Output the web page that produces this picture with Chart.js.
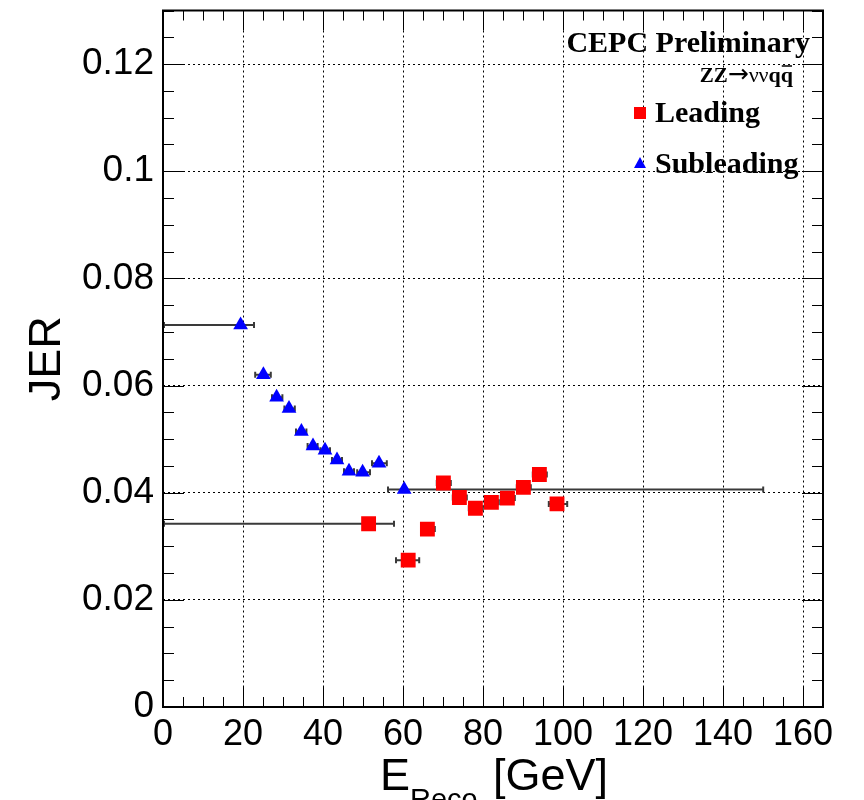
<!DOCTYPE html>
<html>
<head>
<meta charset="utf-8">
<script src="https://cdn.jsdelivr.net/npm/chart.js@4.4.1/dist/chart.umd.min.js"></script>
<style>
  body { margin: 0; background: #fff; }
  #c { display: block; }
</style>
</head>
<body>
<canvas id="c" width="864" height="800"></canvas>
<script>
// data -------------------------------------------------------------
var subX     = [19.4, 25.1, 28.4, 31.5, 34.6, 37.5, 40.5, 43.5, 46.5, 49.9, 54.0, 60.3];
var subY     = [0.0713, 0.0620, 0.0578, 0.0557, 0.0514, 0.0487, 0.0479, 0.0461, 0.0440, 0.0438, 0.0455, 0.0406];
var subXLow  = [0, 22.8, 27.0, 30.1, 33.0, 35.9, 39.1, 42.0, 45.0, 48.3, 52.0, 56.0];
var subXHigh = [23.0, 27.2, 30.1, 33.2, 36.1, 38.9, 42.0, 45.0, 48.0, 52.0, 56.2, 150.3];

var leadX     = [51.4, 61.3, 66.1, 70.1, 74.1, 78.1, 82.1, 86.1, 90.1, 94.1, 98.5];
var leadY     = [0.0342, 0.0274, 0.0332, 0.0418, 0.0391, 0.0371, 0.0382, 0.0390, 0.0410, 0.0434, 0.0379];
var leadXLow  = [0, 58.0, 64.3, 68.2, 72.2, 76.2, 80.2, 84.2, 88.2, 92.2, 96.2];
var leadXHigh = [58.0, 64.3, 68.2, 72.2, 76.2, 80.2, 84.2, 88.2, 92.2, 96.2, 101.3];

var xTicks  = [0, 20, 40, 60, 80, 100, 120, 140, 160];
var xLabels = ['0', '20', '40', '60', '80', '100', '120', '140', '160'];
var yTicks  = [0, 0.02, 0.04, 0.06, 0.08, 0.1, 0.12];
var yLabels = ['0', '0.02', '0.04', '0.06', '0.08', '0.1', '0.12'];

var legendNames = ['Leading', 'Subleading'];

function points(xs, ys, lo, hi) {
  var out = [];
  for (var i = 0; i < xs.length; i++) {
    out.push({x: xs[i], y: ys[i], xl: lo[i], xh: hi[i]});
  }
  return out;
}

// ROOT-like frame, inward ticks, error bars, legend, x title
var rootStyle = {
  id: 'rootStyle',
  beforeDatasetsDraw: function (chart) {
    var ctx = chart.ctx, xs = chart.scales.x, ys = chart.scales.y, a = chart.chartArea;
    ctx.save();
    ctx.beginPath();
    ctx.rect(a.left, a.top, a.right - a.left, a.bottom - a.top);
    ctx.clip();
    ctx.strokeStyle = '#3a3a3a';
    ctx.lineWidth = 2;
    chart.data.datasets.forEach(function (ds) {
      ds.data.forEach(function (p) {
        var py = ys.getPixelForValue(p.y);
        var x1 = xs.getPixelForValue(p.xl), x2 = xs.getPixelForValue(p.xh);
        ctx.beginPath();
        ctx.moveTo(x1, py); ctx.lineTo(x2, py);
        ctx.moveTo(x1 + 1, py - 3); ctx.lineTo(x1 + 1, py + 3);
        ctx.moveTo(x2 - 1, py - 3); ctx.lineTo(x2 - 1, py + 3);
        ctx.stroke();
      });
    });
    ctx.restore();
  },
  afterDraw: function (chart) {
    var ctx = chart.ctx, xs = chart.scales.x, ys = chart.scales.y, a = chart.chartArea;
    ctx.save();
    ctx.strokeStyle = '#000';
    ctx.lineWidth = 1;
    // minor / major ticks on all four sides
    ctx.beginPath();
    for (var i = 0; i * 5 <= xs.max; i++) {
      var px = Math.round(xs.getPixelForValue(i * 5)) + 0.5;
      var len = (i % 4 === 0) ? 20 : 10;
      ctx.moveTo(px, a.bottom); ctx.lineTo(px, a.bottom - len);
      ctx.moveTo(px, a.top); ctx.lineTo(px, a.top + len);
    }
    for (var j = 0; j * 0.005 <= ys.max + 1e-9; j++) {
      var py = Math.round(ys.getPixelForValue(j * 0.005)) + 0.5;
      var ln = (j % 4 === 0) ? 21 : 11;
      ctx.moveTo(a.left, py); ctx.lineTo(a.left + ln, py);
      ctx.moveTo(a.right, py); ctx.lineTo(a.right - ln, py);
    }
    ctx.stroke();
    // frame
    ctx.lineWidth = 2;
    ctx.strokeRect(a.left, a.top, a.right - a.left, a.bottom - a.top);

    // header texts
    ctx.fillStyle = '#000';
    ctx.textAlign = 'right';
    ctx.textBaseline = 'alphabetic';
    ctx.font = 'bold 30px "Liberation Serif"';
    ctx.fillText('CEPC Preliminary', 810, 52);
    // ZZ -> nu nu q qbar, built left to right
    var parts = [
      ['ZZ', 'bold 21px "Liberation Serif"'],
      ['\u2192', '25px "DejaVu Sans"'],
      ['\u03bd\u03bd', '22px "Liberation Serif"'],
      ['qq', 'bold 22px "Liberation Serif"']
    ];
    var total = 0;
    parts.forEach(function (p) { ctx.font = p[1]; total += ctx.measureText(p[0]).width; });
    var cx = 793 - total;
    ctx.textAlign = 'left';
    parts.forEach(function (p) {
      ctx.font = p[1];
      ctx.fillText(p[0], cx, 82);
      cx += ctx.measureText(p[0]).width;
    });
    ctx.font = 'bold 22px "Liberation Serif"';
    var qw = ctx.measureText('q').width;
    ctx.lineWidth = 1.5;
    ctx.beginPath();
    ctx.moveTo(793 - qw + 1, 66); ctx.lineTo(793 - 1, 66);
    ctx.stroke();

    // legend
    ctx.fillStyle = '#ff0000';
    ctx.fillRect(634, 107, 12, 12);
    ctx.fillStyle = '#0000ff';
    ctx.beginPath();
    ctx.moveTo(640, 157); ctx.lineTo(646, 168); ctx.lineTo(634, 168);
    ctx.closePath(); ctx.fill();
    ctx.fillStyle = '#000';
    ctx.font = 'bold 30px "Liberation Serif"';
    ctx.fillText(legendNames[0], 655, 122);
    ctx.fillText(legendNames[1], 655, 173);

    // x title with subscript
    ctx.font = '45px "Liberation Sans"';
    ctx.fillText('E', 380, 790);
    ctx.font = '29px "Liberation Sans"';
    ctx.fillText('Reco', 410, 809);
    ctx.font = '45px "Liberation Sans"';
    ctx.fillText('[GeV]', 493, 790);
    ctx.restore();
  }
};

var ctx = document.getElementById('c');
new Chart(ctx, {
  type: 'scatter',
  data: {
    datasets: [
      {
        label: legendNames[0],
        data: points(leadX, leadY, leadXLow, leadXHigh),
        pointStyle: 'rect',
        pointRadius: 10.5,
        pointHoverRadius: 10.5,
        backgroundColor: '#ff0000',
        borderColor: '#ff0000',
        borderWidth: 0
      },
      {
        label: legendNames[1],
        data: points(subX, subY, subXLow, subXHigh),
        pointStyle: 'triangle',
        pointRadius: 8.5,
        pointHoverRadius: 8.5,
        backgroundColor: '#0000ff',
        borderColor: '#0000ff',
        borderWidth: 0
      }
    ]
  },
  options: {
    responsive: false,
    animation: false,
    layout: { padding: { top: 9, right: 41, left: 0, bottom: 0 } },
    plugins: {
      legend: { display: false },
      tooltip: { enabled: false }
    },
    scales: {
      x: {
        type: 'linear',
        min: 0,
        max: 165,
        afterBuildTicks: function (scale) {
          scale.ticks = xTicks.map(function (v) { return {value: v}; });
        },
        afterFit: function (scale) {
          scale.height = 93;
          scale.paddingLeft = 0;
          scale.paddingRight = 0;
        },
        ticks: {
          autoSkip: false,
          maxRotation: 0,
          padding: 6,
          color: '#000',
          font: { family: 'Liberation Sans', size: 36 },
          callback: function (v) { return xLabels[xTicks.indexOf(v)]; }
        },
        grid: { color: '#000', lineWidth: 1, drawTicks: false },
        border: { display: false, dash: [2, 3] }
      },
      y: {
        type: 'linear',
        min: 0,
        max: 0.13,
        afterBuildTicks: function (scale) {
          scale.ticks = yTicks.map(function (v) { return {value: v}; });
        },
        afterFit: function (scale) {
          scale.width = 163;
          scale.paddingTop = 0;
          scale.paddingBottom = 0;
        },
        ticks: {
          autoSkip: false,
          padding: 9,
          color: '#000',
          font: { family: 'Liberation Sans', size: 37 },
          callback: function (v) { return yLabels[yTicks.indexOf(v)]; }
        },
        grid: { color: '#000', lineWidth: 1, drawTicks: false },
        border: { display: false, dash: [2, 3] },
        title: {
          display: true,
          text: 'JER',
          color: '#000',
          font: { family: 'Liberation Sans', size: 45 },
          padding: { top: 21, bottom: 0 }
        }
      }
    }
  },
  plugins: [rootStyle]
});
</script>
</body>
</html>
